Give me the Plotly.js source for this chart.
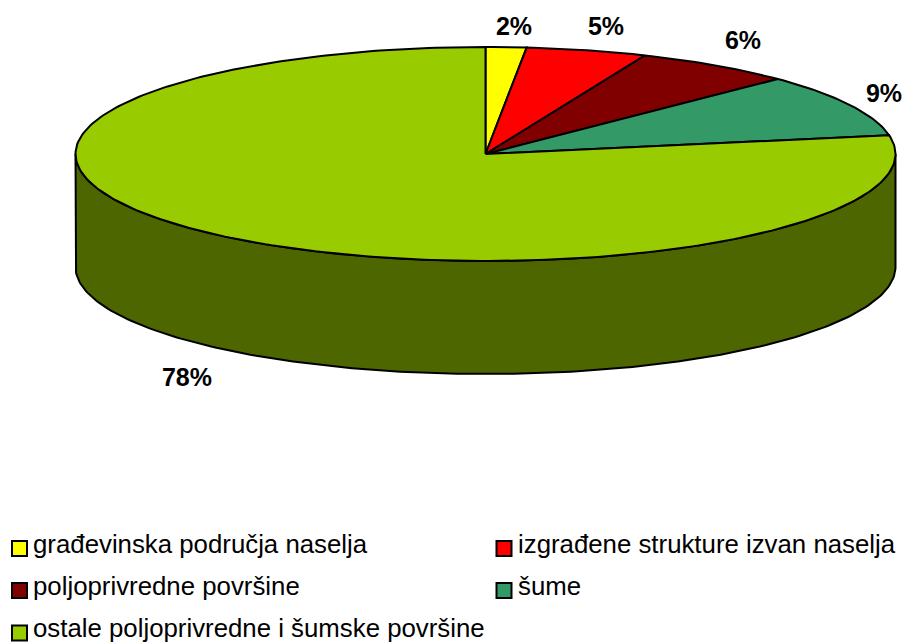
<!DOCTYPE html>
<html><head><meta charset="utf-8">
<script src="https://cdn.plot.ly/plotly-3.0.1.min.js"></script>
<style>html,body{margin:0;padding:0;background:#fff}#c{width:904px;height:642px}</style>
</head><body><div id="c"></div>
<script>
const categories = ['građevinska područja naselja','izgrađene strukture izvan naselja','poljoprivredne površine','šume','ostale poljoprivredne i šumske površine'];
const values = [1.6, 4.76, 6.28, 9.56, 77.8];
const percentLabels = ['2%','5%','6%','9%','78%'];
const colors = ['#FFFF00','#FF0000','#800000','#339966','#99CC00'];
const sideColor = '#4D6600';
const labelX = [514, 606, 743, 884, 187];
const labelY = [29, 29, 43, 96, 380];

const cx = 485.5, cy = 154, rx = 410, ry = 107, depth = 113;
const LINE = {color:'#000', width:2};
const FONT = 'Liberation Sans, Arial, sans-serif';
const pt = d => [cx + rx*Math.sin(d*Math.PI/180), cy - ry*Math.cos(d*Math.PI/180)];
const traces = [];

const sx = [], sy = [];
for (let d = 90; d <= 270; d += 1) { const p = pt(d); sx.push(p[0]); sy.push(p[1]); }
for (let d = 270; d >= 90; d -= 1) { const p = pt(d); sx.push(p[0]); sy.push(p[1] + depth); }
sx.push(sx[0]); sy.push(sy[0]);
traces.push({type:'scatter', mode:'lines', x:sx, y:sy, fill:'toself', fillcolor:sideColor, line:LINE, hoverinfo:'skip', showlegend:false});

const total = values.reduce((a,b)=>a+b,0);
let acc = 0;
values.forEach((v,i) => {
  const a0 = acc/total*360, a1 = (acc+v)/total*360; acc += v;
  const x = [cx], y = [cy];
  const n = Math.max(2, Math.ceil(a1-a0));
  for (let k = 0; k <= n; k++) { const p = pt(a0 + (a1-a0)*k/n); x.push(p[0]); y.push(p[1]); }
  x.push(cx); y.push(cy);
  traces.push({type:'scatter', mode:'lines', name:categories[i], x, y, fill:'toself', fillcolor:colors[i], line:LINE, hoverinfo:'name', showlegend:false});
});

traces.push({type:'scatter', mode:'text', x:labelX, y:labelY, text:percentLabels, textposition:'middle center',
  textfont:{family:FONT, size:25, color:'#000', weight:700}, hoverinfo:'skip', showlegend:false});

const colX = [19.5, 504], rowY = [548.5, 590.5, 633], textColX = [33, 518], textRowY = [547, 589, 631];
const col = i => i < 4 ? i%2 : 0, row = i => Math.floor(i/2);
traces.push({type:'scatter', mode:'markers', x:categories.map((_,i)=>colX[col(i)]), y:categories.map((_,i)=>rowY[row(i)]),
  marker:{symbol:'square', size:15, color:colors, line:{color:'#000', width:2}}, hoverinfo:'skip', showlegend:false, cliponaxis:false});
traces.push({type:'scatter', mode:'text', x:categories.map((_,i)=>textColX[col(i)]), y:categories.map((_,i)=>textRowY[row(i)]), text:categories, textposition:'middle right',
  textfont:{family:FONT, size:25.8, color:'#000'}, hoverinfo:'skip', showlegend:false, cliponaxis:false});

Plotly.newPlot('c', traces, {
  width:904, height:642, margin:{l:0,r:0,t:0,b:0}, paper_bgcolor:'#fff', plot_bgcolor:'#fff', showlegend:false,
  xaxis:{range:[0,904], visible:false, fixedrange:true},
  yaxis:{range:[642,0], visible:false, fixedrange:true}
}, {displayModeBar:false, staticPlot:true});
</script></body></html>
